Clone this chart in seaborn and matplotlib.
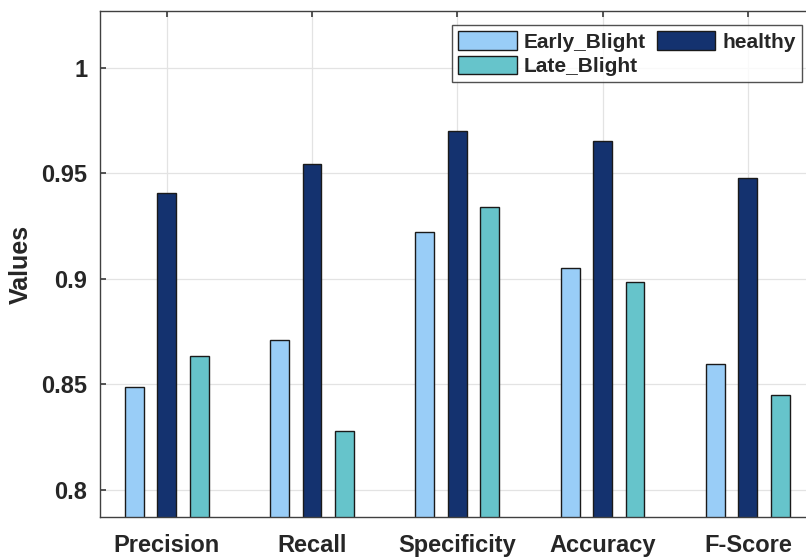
import matplotlib
matplotlib.use("Agg")
import matplotlib.pyplot as plt
import seaborn as sns
import pandas as pd

categories = ["Precision", "Recall", "Specificity", "Accuracy", "F-Score"]
classes = ["Early_Blight", "healthy", "Late_Blight"]
early_blight = [0.8486, 0.8708, 0.9223, 0.9050, 0.8597]
healthy = [0.9408, 0.9547, 0.9700, 0.9652, 0.9479]
late_blight = [0.8633, 0.8276, 0.9343, 0.8987, 0.8448]
yticks = [0.8, 0.85, 0.9, 0.95, 1.0]
ytick_labels = ["0.8", "0.85", "0.9", "0.95", "1"]
colors = ["#99CDF7", "#14326F", "#66C4CB"]

rows = []
for cls, vals in zip(classes, [early_blight, healthy, late_blight]):
    for cat, v in zip(categories, vals):
        rows.append({"Metric": cat, "Class": cls, "Value": v})
df = pd.DataFrame(rows)

sns.set_theme(style="white")
plt.rcParams["font.family"] = ["Liberation Sans", "DejaVu Sans"]
plt.rcParams["font.weight"] = "bold"

fig = plt.figure(figsize=(8.06, 5.58), dpi=100)
ax = fig.add_axes([0.124, 0.0735, 0.876, 0.9065])

sns.barplot(data=df, x="Metric", y="Value", hue="Class", order=categories,
            hue_order=classes, palette=colors, saturation=1, width=0.67, gap=0.42,
            edgecolor="#1a1a1a", linewidth=1.0, ax=ax, legend=True)

ax.set_ylim(0.787, 1.027)
ax.set_xlim(-0.46, 4.40)
ax.set_yticks(yticks)
ax.set_yticklabels(ytick_labels)
ax.set_xlabel("")
ax.set_ylabel("Values", fontsize=18, fontweight="bold")
ax.yaxis.set_label_coords(-0.095, 0.5)
ax.grid(True, color="#e3e3e3", linewidth=0.9)
ax.set_axisbelow(True)
ax.tick_params(axis="y", labelsize=17, direction="in", length=4,
               color="#404040", left=True, pad=9)
ax.tick_params(axis="x", labelsize=17, direction="in", length=4,
               color="#404040", top=True, bottom=True, pad=12)
for lab in ax.get_xticklabels() + ax.get_yticklabels():
    lab.set_fontweight("bold")
    lab.set_color("#262626")
ax.yaxis.label.set_color("#262626")
for s in ["left", "bottom", "top"]:
    ax.spines[s].set_color("#404040")
    ax.spines[s].set_linewidth(1.0)
ax.spines["right"].set_visible(False)

handles, labels = ax.get_legend_handles_labels()
order = [0, 2, 1]
leg = ax.legend([handles[i] for i in order], [labels[i] for i in order],
                ncol=2, loc="upper right", bbox_to_anchor=(0.994, 0.973),
                frameon=True, fancybox=False, edgecolor="#262626",
                prop={"weight": "bold", "size": 15}, handlelength=2.8,
                handleheight=1.0, columnspacing=0.5, handletextpad=0.35,
                labelspacing=0.2, borderpad=0.3, borderaxespad=0)
leg.get_frame().set_linewidth(1.0)

fig.savefig("out.png", dpi=100)
